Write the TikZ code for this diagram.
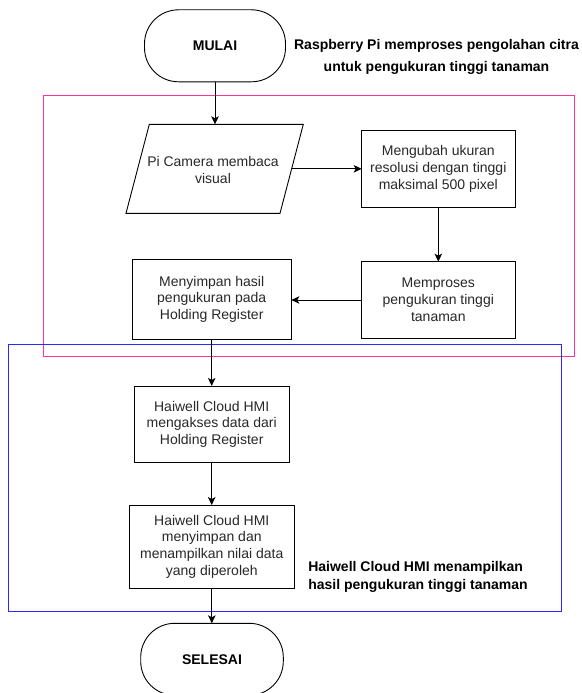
\documentclass[tikz,border=0pt]{standalone}
\usepackage{fontspec}
\setmainfont{Liberation Sans}
\usetikzlibrary{arrows.meta,calc}
\definecolor{framepink}{RGB}{255,51,153}
\definecolor{frameblue}{RGB}{40,40,255}
\definecolor{txtgray}{RGB}{40,40,40}
\begin{document}
\begin{tikzpicture}[x=1pt,y=-1pt,
  every node/.style={inner sep=0pt, outer sep=0pt},
  procbox/.style={draw=black, line width=0.9pt, fill=white, rectangle, align=center,
    text=txtgray, font=\fontsize{14}{16.8}\selectfont},
  termbox/.style={draw=black, line width=0.9pt, fill=white, rectangle, rounded corners=34pt,
    minimum width=141pt, minimum height=72pt, align=center, font=\fontsize{14}{16.8}\selectfont\bfseries},
  frametxt/.style={align=center, font=\fontsize{14}{17.5}\selectfont\bfseries, text=black},
  flow/.style={draw=black, line width=0.9pt, -{Stealth[length=8pt,width=7.5pt,inset=2pt]}}
]
\useasboundingbox (0,0) rectangle (581,693);

% frames
\draw[framepink, line width=1pt] (43.7,95) rectangle (574,356.3);
\draw[frameblue, line width=1pt] (8.3,344.5) rectangle (561.7,611.3);

% terminators
\node[termbox] (mulai) at (215,45.8) {MULAI};
\node[termbox, minimum width=142.6pt] (selesai) at (212,659.3) {SELESAI};

% parallelogram (input)
\coordinate (camBL) at (126,213.3);
\coordinate (camTL) at (149.3,124.3);
\coordinate (camTR) at (303.3,124.3);
\coordinate (camBR) at (280,213.3);
\draw[line width=0.9pt, fill=white] (camBL) -- (camTL) -- (camTR) -- (camBR) -- cycle;
\coordinate (camT) at (215,124.3);
\coordinate (camR) at ($(camTR)!0.5!(camBR)$);
\node[align=center, text=txtgray, font=\fontsize{14}{17.5}\selectfont] (camera) at (213,170) {Pi Camera membaca\\visual};

% process boxes
\node[procbox, minimum width=153.3pt, minimum height=77.3pt] (mengubah) at (438.3,168.7)
  {Mengubah ukuran\\resolusi dengan tinggi\\maksimal 500 pixel};
\node[procbox, minimum width=153.3pt, minimum height=76.7pt] (memproses) at (438.3,300)
  {Memproses\\pengukuran tinggi\\tanaman};
\node[procbox, minimum width=159.3pt, minimum height=80pt] (menyimpan) at (211.7,299.3)
  {Menyimpan hasil\\pengukuran pada\\Holding Register};
\node[procbox, minimum width=154.7pt, minimum height=76.7pt] (hmione) at (211.7,424.3)
  {Haiwell Cloud HMI\\mengakses data dari\\Holding Register};
\node[procbox, minimum width=165pt, minimum height=83.3pt] (hmitwo) at (211.8,546.7)
  {Haiwell Cloud HMI\\menyimpan dan\\menampilkan nilai data\\yang diperoleh};

% frame labels
\node[frametxt, font=\fontsize{14}{22.6}\selectfont\bfseries] (titlepi) at (436.5,57)
  {Raspberry Pi memproses pengolahan citra\\untuk pengukuran tinggi tanaman};
\node[frametxt, align=left, anchor=west, font=\fontsize{14}{17.7}\selectfont\bfseries] (titlehmi) at (308.3,577.2)
  {Haiwell Cloud HMI menampilkan\\hasil pengukuran tinggi tanaman};

% connectors
\draw[flow] (mulai.south |- mulai.south) -- (camT);
\draw[flow] (camR) -- (camR -| mengubah.west);
\draw[flow] (mengubah.south) -- (memproses.north);
\draw[flow] (memproses.west) -- (menyimpan.east |- memproses.west);
\draw[flow] (menyimpan.south) -- (menyimpan.south |- hmione.north);
\draw[flow] (hmione.south) -- (hmione.south |- hmitwo.north);
\draw[flow] (hmitwo.south) -- (hmitwo.south |- selesai.north);
\end{tikzpicture}
\end{document}
